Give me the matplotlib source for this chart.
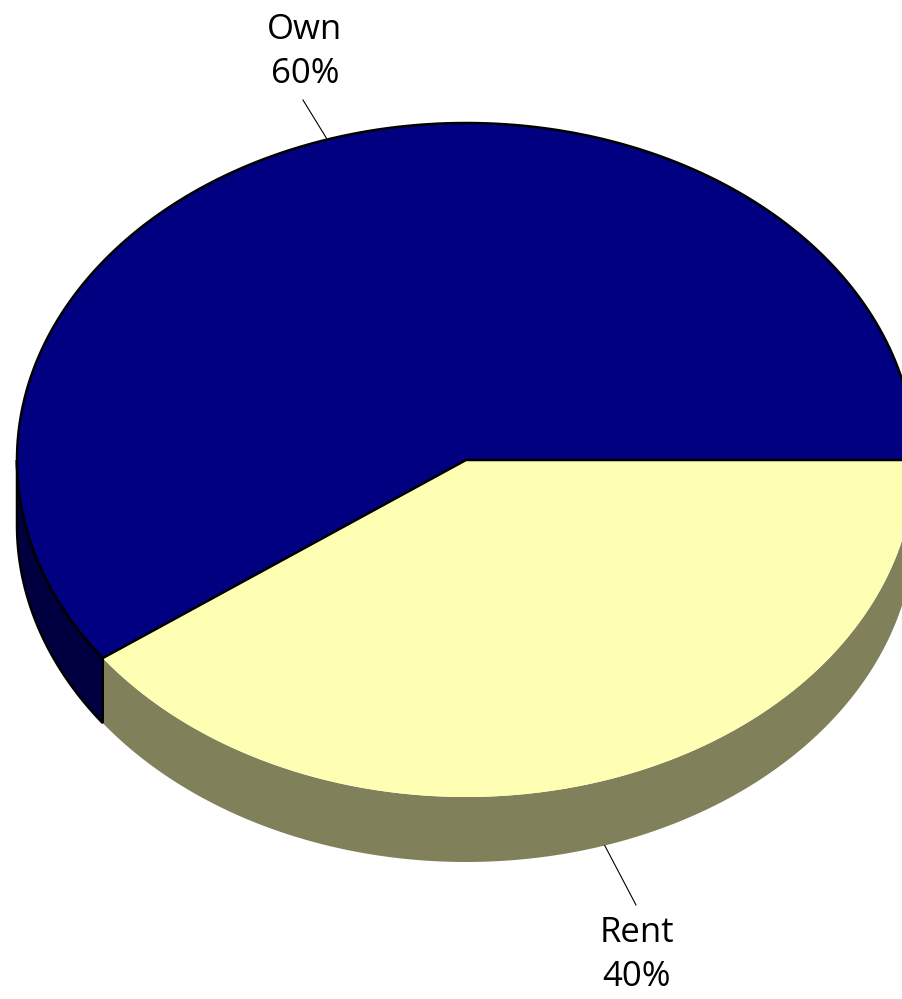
import numpy as np
import matplotlib.pyplot as plt
from matplotlib.patches import Polygon

# data
labels = ['Own', 'Rent']
values = [60, 40]
top_colors = ['#000080', '#FFFFB3']
side_colors = ['#000040', '#80805A']

# geometry in pixel space
cx, cy = 466, 460
rx, ry = 449, 337
depth = 65

fig = plt.figure(figsize=(9.03, 9.99), dpi=100)
ax = fig.add_axes([0, 0, 1, 1])
ax.set_xlim(0, 903)
ax.set_ylim(999, 0)
ax.axis('off')


def pt(a, dz=0):
    r = np.radians(a)
    return cx + rx * np.cos(r), cy + ry * np.sin(r) + dz


# angles measured clockwise on screen from east; Rent starts at 0, Own follows
order = [1, 0]
starts = {}
a = 0
for i in order:
    span = values[i] / sum(values) * 360
    starts[i] = (a, a + span)
    a += span

# side walls (only the front half, 0..180 deg, is visible)
for i in order:
    a0, a1 = starts[i]
    s0, s1 = max(a0, 0), min(a1, 180)
    if s1 <= s0:
        continue
    t = np.linspace(s0, s1, 200)
    top = [pt(v) for v in t]
    bot = [pt(v, depth) for v in t[::-1]]
    lw = 1.8 if i == 0 else 0
    ax.add_patch(Polygon(top + bot, closed=True, facecolor=side_colors[i],
                         edgecolor='black', linewidth=lw))

# top faces
for i in order:
    a0, a1 = starts[i]
    t = np.linspace(a0, a1, 400)
    verts = [(cx, cy)] + [pt(v) for v in t]
    lw = 1.8 if i == 0 else 0
    ax.add_patch(Polygon(verts, closed=True, facecolor=top_colors[i],
                         edgecolor='black', linewidth=lw, joinstyle='round'))

# labels with leader lines
label_pos = {0: (305, 52), 1: (637, 955)}
line_end = {0: (303, 100), 1: (636, 905)}
for i in order:
    a0, a1 = starts[i]
    mid = (a0 + a1) / 2
    dz = depth if 0 < mid < 180 else 0
    x0, y0 = pt(mid, dz)
    x1, y1 = line_end[i]
    ax.plot([x0, x1], [y0, y1], color='black', linewidth=0.8)
    ax.text(*label_pos[i], f'{labels[i]}\n{values[i]}%', ha='center', va='center',
            fontsize=25, family=['Open Sans', 'DejaVu Sans'], linespacing=1.35)

fig.savefig('out.png', dpi=100)
